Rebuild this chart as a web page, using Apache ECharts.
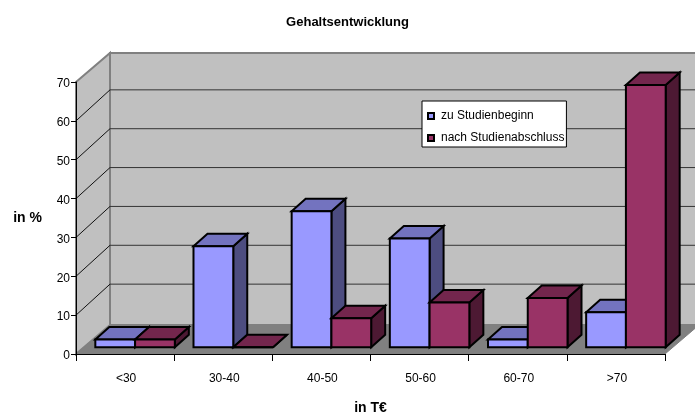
<!DOCTYPE html>
<html>
<head>
<meta charset="utf-8">
<title>Gehaltsentwicklung</title>
<script src="https://cdn.jsdelivr.net/npm/echarts@6/dist/echarts.min.js"></script>
<style>
  html, body { margin: 0; padding: 0; background: #fff; }
  #chart { width: 695px; height: 417px; }
</style>
</head>
<body>
<div id="chart"></div>
<script>
var categories = ['<30', '30-40', '40-50', '50-60', '60-70', '>70'];
var beginValues = [2, 26, 35, 28, 2, 9];
var endValues = [2, 0, 7.5, 11.5, 12.7, 67.5];
var yTicks = [10, 20, 30, 40, 50, 60, 70];

var fontName = '"Liberation Sans", Arial, sans-serif';
// Tiefe des 3D-Raums in Pixeln
var roomDx = 34, roomDy = 29, gridDy = 31;
var barDepthDx = 14, barDepthDy = 12.5;
var barShiftX = 10, barShiftY = 6.7;

function poly(points, fill, stroke, width) {
  return {
    type: 'polygon',
    shape: { points: points },
    style: { fill: fill, stroke: stroke, lineWidth: width, lineJoin: 'miter' }
  };
}

// Wände und Boden
function renderRoom(params, api) {
  var val = api.value(0);
  var p0 = api.coord([0, 0]);
  var w = api.size([1, 0])[0];
  var left = p0[0] - w / 2;
  var right = left + w * categories.length;
  var base = p0[1];
  var top = api.coord([0, 70])[1];
  var y = api.coord([0, val])[1];
  var children = [];
  if (params.dataIndex === 0) {
    children.push(poly([[left + roomDx, top - roomDy], [right + roomDx, top - roomDy], [right + roomDx, base - roomDy], [left + roomDx, base - roomDy]], '#c0c0c0', '#808080', 2));
    children.push(poly([[left, top], [left + roomDx, top - roomDy], [left + roomDx, base - roomDy], [left, base]], '#c0c0c0', '#808080', 2));
    children.push(poly([[left, base], [left + roomDx, base - roomDy], [right + roomDx, base - roomDy], [right, base]], '#808080', '#808080', 1));
  }
  if (val < 70) {
    children.push({ type: 'line', shape: { x1: left, y1: y, x2: left + roomDx, y2: y - gridDy }, style: { stroke: '#111', lineWidth: 1 } });
    children.push({ type: 'line', shape: { x1: left + roomDx, y1: y - gridDy, x2: right + roomDx, y2: y - gridDy }, style: { stroke: '#333', lineWidth: 1 } });
  }
  return { type: 'group', children: children };
}

function makeBarRender(order, front, topColor, sideColor) {
  return function (params, api) {
    var c = api.coord([api.value(0), api.value(1)]);
    var b = api.coord([api.value(0), 0]);
    var w = api.size([1, 0])[0] * 0.405;
    var x1 = c[0] + barShiftX - w + order * w;
    var x2 = x1 + w;
    var yt = c[1] - barShiftY;
    var yb = b[1] - barShiftY;
    var dx = barDepthDx, dy = barDepthDy;
    return {
      type: 'group',
      children: [
        poly([[x2, yt], [x2 + dx, yt - dy], [x2 + dx, yb - dy], [x2, yb]], sideColor, '#000', 2),
        poly([[x1, yt], [x1 + dx, yt - dy], [x2 + dx, yt - dy], [x2, yt]], topColor, '#000', 2),
        poly([[x1, yt], [x2, yt], [x2, yb], [x1, yb]], front, '#000', 2)
      ]
    };
  };
}

function toData(values) {
  return values.map(function (v, i) { return [i, v]; });
}

var chart = echarts.init(document.getElementById('chart'));
chart.setOption({
  animation: false,
  textStyle: { fontFamily: fontName },
  title: {
    text: 'Gehaltsentwicklung',
    left: 'center',
    top: 11,
    textStyle: { fontFamily: fontName, fontSize: 13, fontWeight: 'bold', color: '#000' }
  },
  legend: {
    left: 422,
    top: 101,
    orient: 'vertical',
    padding: [9, 2, 3, 5],
    itemGap: 10,
    itemWidth: 6,
    itemHeight: 6,
    icon: 'rect',
    backgroundColor: '#fff',
    borderColor: '#000',
    borderWidth: 1,
    borderRadius: 0,
    itemStyle: { borderColor: '#000', borderWidth: 2 },
    textStyle: { fontFamily: fontName, fontSize: 12, color: '#000', padding: [0, 0, 0, 2] },
    data: ['zu Studienbeginn', 'nach Studienabschluss']
  },
  grid: { left: 76, right: 30, top: 82, bottom: 63, outerBoundsMode: 'none' },
  xAxis: {
    type: 'category',
    data: categories,
    z: 5,
    name: 'in T€',
    nameLocation: 'middle',
    nameGap: 47,
    nameTextStyle: { fontFamily: fontName, fontSize: 14, fontWeight: 'bold', color: '#000' },
    axisLine: { lineStyle: { color: '#000', width: 1 } },
    axisTick: { show: true, length: 7, lineStyle: { color: '#000' } },
    axisLabel: { color: '#000', fontFamily: fontName, fontSize: 12, margin: 19, interval: 0, padding: [0, 0, 0, 2] },
    splitLine: { show: false }
  },
  yAxis: {
    type: 'value',
    min: 0,
    max: 70,
    interval: 10,
    z: 5,
    name: 'in %',
    nameLocation: 'middle',
    nameRotate: 0,
    nameGap: 34,
    nameTextStyle: { fontFamily: fontName, fontSize: 14, fontWeight: 'bold', color: '#000' },
    axisLine: { show: true, lineStyle: { color: '#000', width: 1 } },
    axisTick: { show: true, length: 5, lineStyle: { color: '#000' } },
    axisLabel: { color: '#000', fontFamily: fontName, fontSize: 12, margin: 6, verticalAlign: 'top', lineHeight: 4 },
    splitLine: { show: false }
  },
  series: [
    {
      name: 'room',
      type: 'custom',
      z: 1,
      silent: true,
      renderItem: renderRoom,
      encode: { y: 0 },
      data: yTicks.map(function (v) { return [v]; })
    },
    {
      name: 'zu Studienbeginn',
      type: 'custom',
      z: 2,
      itemStyle: { color: '#9999ff' },
      renderItem: makeBarRender(0, '#9999ff', '#7373bf', '#4d4d80'),
      encode: { x: 0, y: 1 },
      data: toData(beginValues)
    },
    {
      name: 'nach Studienabschluss',
      type: 'custom',
      z: 3,
      itemStyle: { color: '#993366' },
      renderItem: makeBarRender(1, '#993366', '#73264d', '#4d1933'),
      encode: { x: 0, y: 1 },
      data: toData(endValues)
    }
  ]
});
</script>
</body>
</html>
